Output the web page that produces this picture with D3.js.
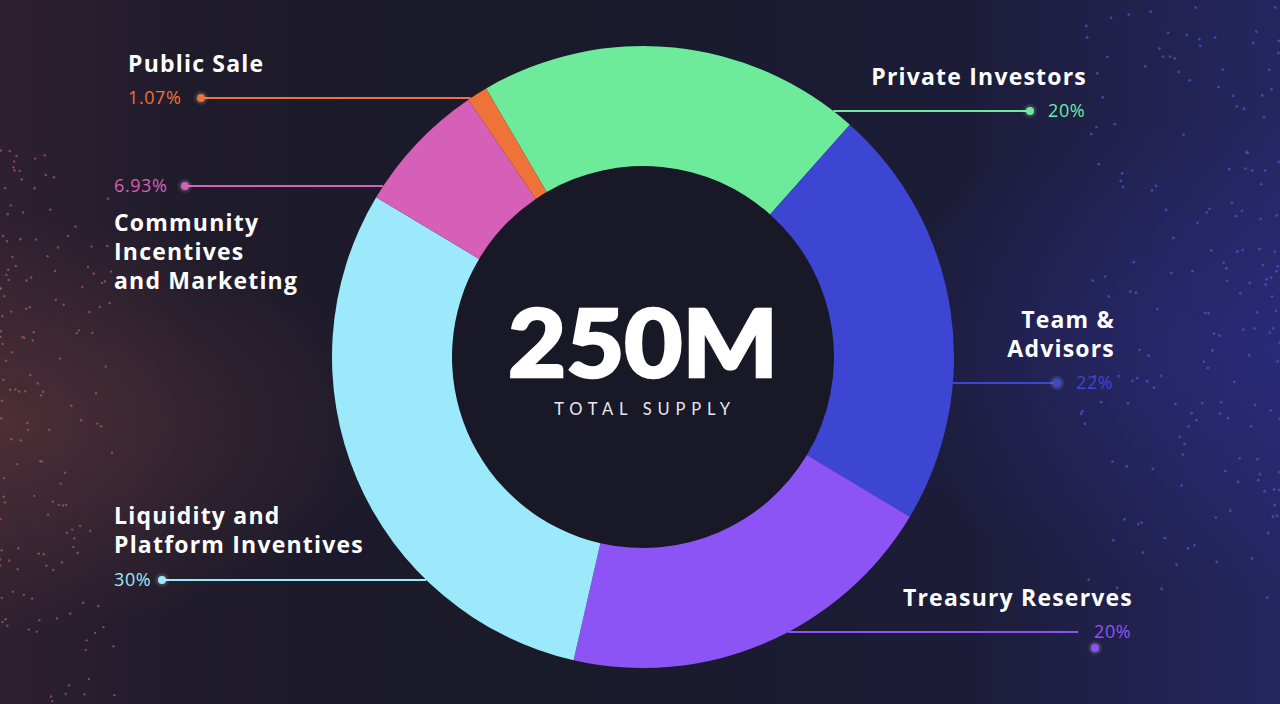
<!DOCTYPE html>
<html><head><meta charset="utf-8">
<script src="https://cdn.jsdelivr.net/npm/d3@7"></script>
<style>html,body{margin:0;padding:0;background:#191a2b;overflow:hidden}</style>
</head><body>
<svg id="c" width="1280" height="704"></svg>
<script>
const categories = ["Private Investors","Team & Advisors","Treasury Reserves","Liquidity and Platform Inventives","Community Incentives and Marketing","Public Sale"];
const values = [20, 22, 20, 30, 6.93, 1.07];
const valueLabels = ["20%","22%","20%","30%","6.93%","1.07%"];
const colors = ["#6deb9b","#3d46d3","#8d54f5","#9be9fb","#d660b8","#ef7239"];
const titleLines = [["Private Investors"],["Team &","Advisors"],["Treasury Reserves"],["Liquidity and","Platform Inventives"],["Community","Incentives","and Marketing"],["Public Sale"]];

const W=1280,H=704, cx=643, cy=357, R=311, r=191;
const svg=d3.select("#c");
const defs=svg.append("defs");
const bg=defs.append("linearGradient").attr("id","bg").attr("x1","0").attr("x2","1").attr("y1","0").attr("y2","0");
bg.append("stop").attr("offset","0").attr("stop-color","#2e2030");
bg.append("stop").attr("offset","0.15").attr("stop-color","#1f1b2b");
bg.append("stop").attr("offset","0.45").attr("stop-color","#191a2a");
bg.append("stop").attr("offset","0.75").attr("stop-color","#1c1c38");
bg.append("stop").attr("offset","1").attr("stop-color","#252660");
svg.append("rect").attr("width",W).attr("height",H).attr("fill","url(#bg)");
const gl=defs.append("radialGradient").attr("id","gl").attr("cx","0").attr("cy","0.6").attr("r","0.3");
gl.append("stop").attr("offset","0").attr("stop-color","#5a3438").attr("stop-opacity",0.7);
gl.append("stop").attr("offset","1").attr("stop-color","#5a3438").attr("stop-opacity",0);
svg.append("rect").attr("width",W).attr("height",H).attr("fill","url(#gl)");
const gr=defs.append("radialGradient").attr("id","gr").attr("cx","1").attr("cy","0.5").attr("r","0.35");
gr.append("stop").attr("offset","0").attr("stop-color","#2e2e90").attr("stop-opacity",0.5);
gr.append("stop").attr("offset","1").attr("stop-color","#2e2e90").attr("stop-opacity",0);
svg.append("rect").attr("width",W).attr("height",H).attr("fill","url(#gr)");
const dg=defs.append("radialGradient").attr("id","dotglow");
dg.append("stop").attr("offset","0").attr("stop-color","#ffffff").attr("stop-opacity",0.35);
dg.append("stop").attr("offset","1").attr("stop-color","#ffffff").attr("stop-opacity",0);

// decorative background particles (deterministic sequence, not data)
const deco=svg.append("g");
const phi=0.6180339887, psi=0.7548776662;
for(let k=1;k<=150;k++){
  const u=(k*phi)%1, v=((k*psi)+(k*k*0.0031))%1;
  const x=Math.pow(u,1.6)*115, y=150+v*554;
  deco.append("circle").attr("cx",x).attr("cy",y).attr("r",1.2).attr("fill","#c0605e").attr("opacity",0.65);
}
for(let k=1;k<=170;k++){
  const u=(k*phi)%1, v=((k*psi)+(k*k*0.0027))%1;
  const x=1280-Math.pow(u,1.5)*200, y=v*600;
  deco.append("circle").attr("cx",x).attr("cy",y).attr("r",1.4).attr("fill","#5252d8").attr("opacity",0.7);
}

const startA = -30.3*Math.PI/180;
const pie=d3.pie().sort(null).value(d=>d).startAngle(startA).endAngle(startA+2*Math.PI);
const arcs=pie(values);
const arc=d3.arc().innerRadius(r).outerRadius(R);
const g=svg.append("g").attr("transform",`translate(${cx},${cy})`);
g.append("circle").attr("r",r).attr("fill","#181827");
g.selectAll("path").data(arcs).enter().append("path").attr("d",arc).attr("fill",(d,i)=>colors[i]);

const layout=[
 {side:"r", ly:111, dx:1030, px:1048, tx:1087, tb:[85]},
 {side:"r", ly:383, dx:1057, px:1076, tx:1115, tb:[328,357]},
 {side:"r", ly:632, dx:1078, px:1094, tx:1133, tb:[606], dotX:1095, dotY:648},
 {side:"l", ly:580, dx:162, px:114, tx:114, tb:[524,553]},
 {side:"l", ly:186, dx:185, px:114, tx:114, tb:[231,260,289]},
 {side:"l", ly:98, dx:201, px:128, tx:128, tb:[72]}
];
const lab=svg.append("g");
layout.forEach((L,i)=>{
  const dyy=L.ly-cy; const ex=Math.sqrt(R*R-dyy*dyy);
  const edgeX = L.side==="r"? cx+ex : cx-ex;
  lab.append("line").attr("x1",edgeX).attr("x2",L.dx).attr("y1",L.ly).attr("y2",L.ly)
    .attr("stroke",colors[i]).attr("stroke-width",2);
  const ddx=L.dotX||L.dx, ddy=L.dotY||L.ly;
  lab.append("circle").attr("cx",ddx).attr("cy",ddy).attr("r",8).attr("fill","url(#dotglow)");
  lab.append("circle").attr("cx",ddx).attr("cy",ddy).attr("r",4).attr("fill",colors[i]);
  lab.append("text").attr("x",L.px).attr("y",L.ly+6).attr("fill",colors[i])
    .attr("font-family","'Open Sans',sans-serif").attr("font-size",18).attr("font-weight",400)
    .attr("letter-spacing",0.6)
    .attr("text-anchor","start").text(valueLabels[i]);
  titleLines[i].forEach((t,k)=>{
    lab.append("text").attr("x",L.tx).attr("y",L.tb[k]).attr("fill","#ffffff")
      .attr("font-family","'Open Sans',sans-serif").attr("font-size",23).attr("font-weight",700)
      .attr("letter-spacing",1.2)
      .attr("text-anchor",L.side==="r"?"end":"start").text(t);
  });
});

svg.append("text").attr("x",cx).attr("y",377).attr("text-anchor","middle").attr("fill","#fff")
  .attr("font-family","Lato,sans-serif").attr("font-weight",900).attr("font-size",94)
  .attr("stroke","#fff").attr("stroke-width",2.5)
  .attr("textLength",270).attr("lengthAdjust","spacingAndGlyphs").text("250M");
svg.append("text").attr("x",cx+2).attr("y",415).attr("text-anchor","middle").attr("fill","#e8e8ee")
  .attr("font-family","Lato,sans-serif").attr("font-weight",400).attr("font-size",16.5)
  .attr("letter-spacing",5.8).text("TOTAL SUPPLY");
</script>
</body></html>
